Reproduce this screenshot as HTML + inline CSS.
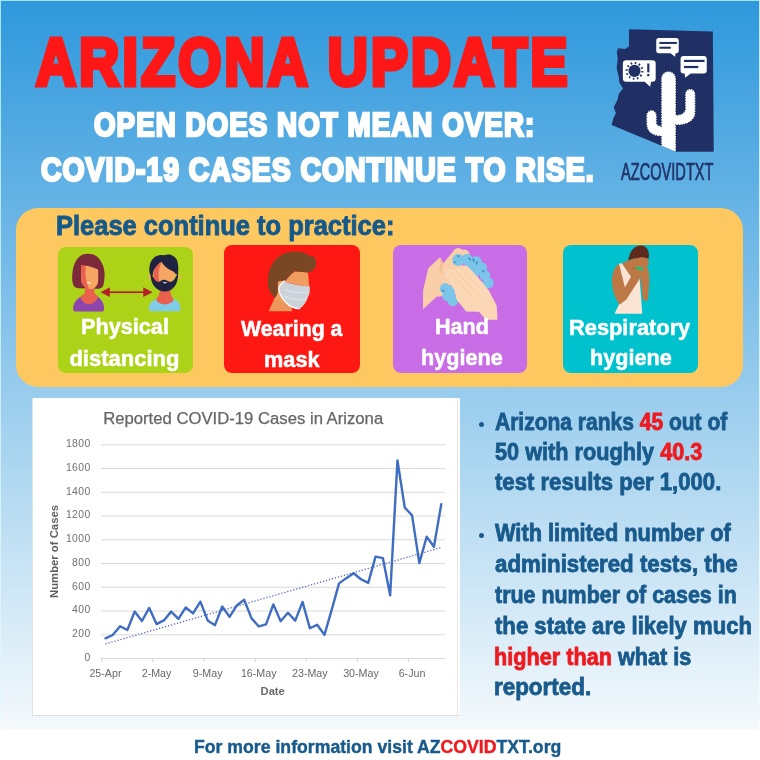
<!DOCTYPE html>
<html lang="en">
<head>
<meta charset="utf-8">
<title>Arizona Update</title>
<style>
html,body{margin:0;padding:0;background:#fff;}
#page{position:relative;width:760px;height:760px;overflow:hidden;font-family:'Liberation Sans',sans-serif;font-weight:700;
 background:linear-gradient(180deg,rgb(46,152,220) 0px,rgb(244,249,252) 729px,#ffffff 730.5px,#ffffff 760px);}
#page:before{content:"";position:absolute;left:0;top:0;width:760px;height:1px;background:#a6e6fb;z-index:5}
#page .redge{position:absolute;right:0;top:0;width:1.3px;height:760px;background:linear-gradient(180deg,#bfeaff 0px,#f2faff 715px,#ffffff 731px);z-index:5}
#page:after{content:"";position:absolute;left:0;top:0;width:1px;height:760px;background:linear-gradient(180deg,#a6e6fb 0px,#e6f7ff 715px,#ffffff 731px);z-index:5}
.t{margin:0;font-weight:700;position:absolute;white-space:nowrap;line-height:1;transform-origin:0 0;paint-order:stroke fill;-webkit-font-smoothing:antialiased}
.panel{position:absolute;left:16.4px;top:207.5px;width:726.9px;height:179.5px;border-radius:22px;background:#fec861}
.tile{position:absolute;border-radius:8px}
.chart{position:absolute;left:31.5px;top:398px;width:428.5px;height:317.5px;background:#fff;box-sizing:border-box;border-left:1px solid #dde1e5;border-bottom:1px solid #dde1e5}
.chart:after{content:"";position:absolute;right:2.5px;top:0;width:1px;height:100%;background:#efe6e7}
.dot{position:absolute;width:5px;height:5px;border-radius:50%;background:#185a8c}
svg{position:absolute;left:0;top:0;overflow:visible}
</style>
</head>
<body>
<div id="page">
<div class="redge"></div>
<div class="panel"></div>
<div class="tile" style="left:58px;top:246.7px;width:135.2px;height:126.2px;background:#acd318"></div>
<div class="tile" style="left:224.4px;top:244.6px;width:135.3px;height:128px;background:#fd1814"></div>
<div class="tile" style="left:393px;top:244.6px;width:134.3px;height:128px;background:#c96de7"></div>
<div class="tile" style="left:563px;top:244.8px;width:134.8px;height:128px;background:#00c2ce"></div>
<div class="chart"></div>
<div class="dot" style="left:478.6px;top:422.4px"></div>
<div class="dot" style="left:478.6px;top:532.8px"></div>
<svg width="760" height="760" viewBox="0 0 760 760">
<!-- logo -->
<g transform="translate(605,20) scale(0.18433)">
 <defs><clipPath id="azclip"><path d="M130,50 L585,62 L590,715 L385,715 L36,570 L44,537 L59,505 L47,474 L67,435 L75,400 L98,372 L78,341 L75,309 L63,262 L69,207 L64,172 L71,153 L110,157 L130,143 Z"/></clipPath></defs>
 <path d="M130,50 L585,62 L590,715 L385,715 L36,570 L44,537 L59,505 L47,474 L67,435 L75,400 L98,372 L78,341 L75,309 L63,262 L69,207 L64,172 L71,153 L110,157 L130,143 Z" fill="#203065"/>
 <g clip-path="url(#azclip)">
  <path id="cactus" d="M305,720 L305,630 C250,630 225,600 225,560 L225,520 C225,480 280,480 280,520 L280,555 C280,570 290,575 305,575 L305,320 C305,265 385,265 385,320 L385,515 C420,515 435,500 435,480 L435,405 C435,365 490,365 490,405 L490,500 C490,545 450,570 385,570 L385,720 Z" fill="#fff" stroke="#203065" stroke-width="8" stroke-dasharray="5 9"/>
 </g>
 <!-- bubble top -->
 <path d="M292,98 H386 Q400,98 400,112 V166 Q400,180 386,180 L383,180 L380,200 L355,180 H292 Q278,180 278,166 V112 Q278,98 292,98 Z" fill="#fff"/>
 <rect x="295" y="119" width="95" height="11" fill="#203065"/><rect x="295" y="145" width="62" height="11" fill="#203065"/>
 <!-- bubble right -->
 <path d="M426,195 H536 Q552,195 552,211 V274 Q552,290 536,290 H465 L435,313 L432,290 H426 Q410,290 410,274 V211 Q410,195 426,195 Z" fill="#fff"/>
 <rect x="428" y="216" width="112" height="12" fill="#203065"/><rect x="428" y="249" width="78" height="12" fill="#203065"/>
 <!-- bubble left virus -->
 <path d="M115,218 H257 Q275,218 275,236 V317 Q275,335 257,335 H250 L245,362 L215,335 H115 Q97,335 97,317 V236 Q97,218 115,218 Z" fill="#fff"/>
 <circle cx="160" cy="276" r="33" fill="#203065"/>
 <circle cx="160" cy="276" r="43" fill="none" stroke="#203065" stroke-width="11" stroke-dasharray="9 13.5"/>
 <rect x="229" y="236" width="12" height="48" fill="#203065"/><rect x="229" y="293" width="12" height="12" fill="#203065"/>
</g>

<!-- tile 1: physical distancing -->
<g transform="translate(50,240) scale(0.21053)">
 <!-- woman -->
 <path d="M171,66 C200,64 222,72 236,92 C252,115 262,145 259,172 C258,195 256,208 252,218 C246,228 238,232 226,231 L139,229 C124,228 114,222 110,212 C105,195 104,180 106,165 C108,130 118,100 137,82 C148,70 160,66 171,66 Z" fill="#7c2a3b"/>
 <path d="M110,326 C110,296 130,272 160,266 L214,266 C240,272 257,296 257,326 Q257,340 244,340 L123,340 Q110,340 110,326 Z" fill="#8e44ad"/>
 <path d="M166,222 L211,222 L211,250 C215,258 222,262 228,266 C226,290 205,305 185,305 C165,305 147,290 145,266 C152,262 162,258 166,250 Z" fill="#e9604f"/>
 <path d="M147,110 L229,110 L229,190 C229,215 212,233 195,233 C170,233 150,215 148,190 Z" fill="#f6a563"/>
 <path d="M147,110 L172,112 C165,150 168,200 186,232 C165,228 150,212 148,190 Z" fill="#e9604f"/>
 <path d="M142,106 L233,100 L233,143 C205,129 175,121 146,119 Z" fill="#7c2a3b"/>
 <path d="M173,201 Q185,213 197,201 Z" fill="#fff"/>
 <!-- man -->
 <path d="M469,326 C469,298 495,280 520,277 L572,277 C600,280 620,298 620,326 Q620,339 606,339 L483,339 Q469,339 469,326 Z" fill="#7fcde9"/>
 <path d="M522,235 L572,235 C572,260 580,272 587,282 C585,298 565,306 546,306 C527,306 507,298 504,282 C512,272 522,260 522,235 Z" fill="#e9604f"/>
 <circle cx="474" cy="176" r="9" fill="#f6a563"/><circle cx="613" cy="176" r="9" fill="#f6a563"/>
 <ellipse cx="544" cy="152" rx="54" ry="58" fill="#f6a563"/>
 <path d="M510,112 C495,135 488,165 494,200 L520,205 C512,170 515,140 528,108 Z" fill="#e9604f"/>
 <path d="M476,165 C470,150 471,135 473,125 C475,112 479,102 484,95 C492,84 500,78 511,75 C520,70 530,72 541,73 C552,68 565,68 576,71 C590,76 598,85 603,95 C607,105 609,115 609,125 C610,140 609,155 607,165 L596,160 C590,152 582,147 572,143 C562,138 552,132 546,125 C540,118 535,111 530,104 C522,106 516,111 511,117 C504,125 498,134 493,143 C490,152 489,160 489,169 Z" fill="#1f2241"/>
 <path d="M477,156 C477,215 508,245 546,245 C582,245 609,215 609,156 L596,178 C590,190 582,197 572,200 C562,196 552,190 541,189 C532,190 523,196 515,200 C505,197 497,190 493,182 Z" fill="#1f2241"/>
 <path d="M534,201 Q546,212 558,201 Z" fill="#fff"/>
 <!-- arrow -->
 <rect x="270" y="244" width="190" height="8" fill="#b4212b"/>
 <path d="M240,248 L284,225 L284,271 Z M487,248 L443,225 L443,271 Z" fill="#b4212b"/>
</g>

<!-- tile 2: mask -->
<g transform="translate(215,240) scale(0.21053)">
 <path d="M283,276 L340,296 L365,318 L365,339 L255,339 Z" fill="#ec965c"/>
 <path d="M296,196 L332,194 L304,230 L310,262 L345,304 L283,278 L297,248 Z" fill="#f19d60"/>
 <path d="M335,194 C345,180 360,160 380,148 L442,154 L448,224 L327,198 Z" fill="#f19d60"/>
 <path d="M282,274 C262,250 248,225 252,193 C252,165 256,145 265,128 C280,95 305,70 340,61 C365,55 395,52 415,58 C432,62 445,72 452,80 C458,72 470,76 476,90 C484,105 482,125 470,139 C462,148 452,153 440,154 L380,148 C372,152 365,158 360,164 C350,175 342,185 335,194 L298,198 L298,248 C295,262 290,270 282,274 Z" fill="#7a4724"/>
 <ellipse cx="311" cy="212" rx="11" ry="18" fill="#f19d60"/>
 <path d="M327,196 C370,212 420,218 450,221 C452,245 448,262 442,270 C432,300 420,315 405,324 C385,326 370,320 355,313 C330,295 312,272 307,253 C303,240 302,232 303,228 C308,215 318,204 327,196 Z" fill="#cdd3da"/>
 <path d="M330,236 C370,250 420,252 447,246 M330,268 C370,286 410,286 436,280" fill="none" stroke="#dde1e6" stroke-width="6"/>
 <path d="M330,194 C318,204 305,215 303,230 C303,252 320,286 355,313 C372,322 388,327 402,326" fill="none" stroke="#fff" stroke-width="6" stroke-linecap="round"/>
</g>

<!-- tile 3: hands -->
<g transform="translate(415,244) scale(0.11842)">
 <path d="M68,552 L68,390 L112,205 L212,112 L238,165 L335,45 Q372,20 398,48 Q440,40 462,78 L420,140 L330,300 L235,440 L182,445 Z" fill="#f8cfa9"/>
 <path d="M212,112 L238,165 L225,250 L205,235 Z" fill="#f3c198"/>
 <g fill="#7cc4ea">
  <circle cx="365" cy="135" r="50"/><circle cx="440" cy="130" r="48"/><circle cx="515" cy="150" r="48"/><circle cx="565" cy="200" r="45"/>
  <circle cx="590" cy="265" r="45"/><circle cx="620" cy="330" r="45"/><circle cx="575" cy="355" r="40"/><circle cx="480" cy="230" r="70"/>
  <circle cx="255" cy="375" r="45"/><circle cx="275" cy="440" r="45"/><circle cx="320" cy="480" r="45"/><circle cx="300" cy="400" r="50"/>
 </g>
 <g fill="none" stroke="#2b8cc0" stroke-width="11" stroke-linecap="round">
  <path d="M330,158 l10,-6 M360,100 l8,6 M455,120 l16,14 M490,125 l8,22 M525,150 l-6,20 M570,225 l12,8 M535,322 l6,4 M232,392 l12,6"/>
 </g>
 <path d="M697,640 L690,520 L622,390 L532,280 L445,190 Q415,170 398,185 L335,215 Q300,200 262,225 L245,262 L330,385 L352,470 L432,570 L540,572 L598,640 L697,640 Z" fill="#fbd7b6"/>
 <path d="M300,240 L470,430 M345,225 L500,400 M395,200 L520,345" fill="none" stroke="#f6c9a2" stroke-width="8" stroke-linecap="round"/>
</g>

<!-- tile 4: respiratory -->
<g transform="translate(600,242) scale(0.10526)">
 <path d="M181,205 L211,205 L300,330 L376,345 L402,682 L138,682 L185,585 Z" fill="#fbe4d3"/>
 <path d="M209,205 L292,160 L340,262 L320,285 L293,327 Z" fill="#bd7845"/>
 <path d="M181,206 C128,240 104,320 118,425 C128,500 158,562 190,594 L250,547 L378,348 L385,300 L320,282 L237,433 Z" fill="#bd7845"/>
 <path d="M438,228 C472,262 472,330 466,420 L456,540 C446,572 414,566 408,540 L384,350 L380,300 L400,250 Z" fill="#bd7845"/>
 <ellipse cx="382" cy="195" rx="82" ry="72" fill="#bd7845"/>
 <circle cx="350" cy="295" r="42" fill="#bd7845"/>
 <path d="M268,178 C278,92 328,34 386,34 C446,34 478,92 460,162 C440,150 402,140 370,150 C340,160 312,150 268,178 Z" fill="#5e2a1d"/>
 <ellipse cx="376" cy="251" rx="40" ry="19" transform="rotate(8 376 251)" fill="#3fae6d"/>
 <path d="M300,262 q20,-22 45,-10" fill="none" stroke="#8a5a35" stroke-width="6"/>
</g>
</svg>

<svg width="760" height="760" viewBox="0 0 760 760" style="font-family:'Liberation Sans',sans-serif;font-weight:400">
<line x1="101" x2="445.2" y1="658.50" y2="658.50" stroke="#d9d9d9" stroke-width="1"/>
<line x1="101" x2="445.2" y1="634.76" y2="634.76" stroke="#d9d9d9" stroke-width="1"/>
<line x1="101" x2="445.2" y1="611.02" y2="611.02" stroke="#d9d9d9" stroke-width="1"/>
<line x1="101" x2="445.2" y1="587.28" y2="587.28" stroke="#d9d9d9" stroke-width="1"/>
<line x1="101" x2="445.2" y1="563.54" y2="563.54" stroke="#d9d9d9" stroke-width="1"/>
<line x1="101" x2="445.2" y1="539.80" y2="539.80" stroke="#d9d9d9" stroke-width="1"/>
<line x1="101" x2="445.2" y1="516.06" y2="516.06" stroke="#d9d9d9" stroke-width="1"/>
<line x1="101" x2="445.2" y1="492.32" y2="492.32" stroke="#d9d9d9" stroke-width="1"/>
<line x1="101" x2="445.2" y1="468.58" y2="468.58" stroke="#d9d9d9" stroke-width="1"/>
<line x1="101" x2="445.2" y1="444.84" y2="444.84" stroke="#d9d9d9" stroke-width="1"/>
<line x1="101.80" x2="101.80" y1="658.50" y2="662.00" stroke="#d0d0d0" stroke-width="1"/>
<line x1="152.90" x2="152.90" y1="658.50" y2="662.00" stroke="#d0d0d0" stroke-width="1"/>
<line x1="204.00" x2="204.00" y1="658.50" y2="662.00" stroke="#d0d0d0" stroke-width="1"/>
<line x1="255.10" x2="255.10" y1="658.50" y2="662.00" stroke="#d0d0d0" stroke-width="1"/>
<line x1="306.20" x2="306.20" y1="658.50" y2="662.00" stroke="#d0d0d0" stroke-width="1"/>
<line x1="357.30" x2="357.30" y1="658.50" y2="662.00" stroke="#d0d0d0" stroke-width="1"/>
<line x1="408.40" x2="408.40" y1="658.50" y2="662.00" stroke="#d0d0d0" stroke-width="1"/>
<text x="90.8" y="660.90" text-anchor="end" font-size="10.4" letter-spacing="0.45" fill="#707070">0</text>
<text x="90.8" y="637.16" text-anchor="end" font-size="10.4" letter-spacing="0.45" fill="#707070">200</text>
<text x="90.8" y="613.42" text-anchor="end" font-size="10.4" letter-spacing="0.45" fill="#707070">400</text>
<text x="90.8" y="589.68" text-anchor="end" font-size="10.4" letter-spacing="0.45" fill="#707070">600</text>
<text x="90.8" y="565.94" text-anchor="end" font-size="10.4" letter-spacing="0.45" fill="#707070">800</text>
<text x="90.8" y="542.20" text-anchor="end" font-size="10.4" letter-spacing="0.45" fill="#707070">1000</text>
<text x="90.8" y="518.46" text-anchor="end" font-size="10.4" letter-spacing="0.45" fill="#707070">1200</text>
<text x="90.8" y="494.72" text-anchor="end" font-size="10.4" letter-spacing="0.45" fill="#707070">1400</text>
<text x="90.8" y="470.98" text-anchor="end" font-size="10.4" letter-spacing="0.45" fill="#707070">1600</text>
<text x="90.8" y="447.24" text-anchor="end" font-size="10.4" letter-spacing="0.45" fill="#707070">1800</text>
<text x="105.45" y="676.8" text-anchor="middle" font-size="10.7" fill="#686868">25-Apr</text>
<text x="156.55" y="676.8" text-anchor="middle" font-size="10.7" fill="#686868">2-May</text>
<text x="207.65" y="676.8" text-anchor="middle" font-size="10.7" fill="#686868">9-May</text>
<text x="258.75" y="676.8" text-anchor="middle" font-size="10.7" fill="#686868">16-May</text>
<text x="309.85" y="676.8" text-anchor="middle" font-size="10.7" fill="#686868">23-May</text>
<text x="360.95" y="676.8" text-anchor="middle" font-size="10.7" fill="#686868">30-May</text>
<text x="412.05" y="676.8" text-anchor="middle" font-size="10.7" fill="#686868">6-Jun</text>
<text x="272.7" y="695.3" text-anchor="middle" font-size="11.2" font-weight="700" fill="#6a6a6a">Date</text>
<text transform="translate(58.3,598) rotate(-90)" font-size="11.4" font-weight="700" fill="#606060" textLength="93" lengthAdjust="spacingAndGlyphs">Number of Cases</text>
<text x="103.2" y="424" font-size="15.8" fill="#666" stroke="#666" stroke-width="0.25" textLength="280" lengthAdjust="spacingAndGlyphs">Reported COVID-19 Cases in Arizona</text>
<line x1="105.45" y1="643.90" x2="441.25" y2="547.52" stroke="#4b63c4" stroke-width="1.3" stroke-dasharray="1.2 1.9"/>
<polyline points="105.45,638.32 112.75,635.00 120.05,626.21 127.35,630.01 134.65,611.61 141.95,620.99 149.25,607.93 156.55,624.08 163.85,620.40 171.15,611.61 178.45,618.97 185.75,607.46 193.05,613.39 200.35,601.64 207.65,620.40 214.95,625.15 222.25,606.51 229.55,616.84 236.85,605.44 244.15,599.74 251.45,618.14 258.75,626.45 266.05,624.43 273.35,604.37 280.65,621.23 287.95,612.80 295.25,620.63 302.55,601.88 309.85,628.23 317.15,624.79 324.45,634.88 331.75,609.60 339.05,583.36 346.35,578.14 353.65,573.27 360.95,579.21 368.25,582.89 375.55,556.66 382.85,558.08 390.15,595.35 397.45,460.51 404.75,507.51 412.05,515.35 419.35,563.07 426.65,536.71 433.95,546.68 441.25,504.19" fill="none" stroke="#3f6dc1" stroke-width="2.4" stroke-linejoin="round" stroke-linecap="round"/>
</svg>
<h1 class="t" style="left:35.87px;top:29.15px;font-size:66.3px;color:#fd1717;-webkit-text-stroke:5px currentColor;letter-spacing:3.917px;transform:scaleX(0.8350)">ARIZONA UPDATE</h1>
<h2 class="t" style="left:93.70px;top:107.85px;font-size:33px;color:#fff;-webkit-text-stroke:2.6px currentColor;letter-spacing:1.262px;transform:scaleX(0.8400)">OPEN DOES NOT MEAN OVER:</h2>
<h2 class="t" style="left:40.70px;top:152.85px;font-size:33px;color:#fff;-webkit-text-stroke:2.6px currentColor;letter-spacing:1.170px;transform:scaleX(0.8600)">COVID-19 CASES CONTINUE TO RISE.</h2>
<div class="t" style="left:621.00px;top:160.05px;font-size:24px;color:#213168;-webkit-text-stroke:0.7px currentColor;font-weight:400;transform:scaleX(0.6086)">AZCOVIDTXT</div>
<h3 class="t" style="left:55.66px;top:212.80px;font-size:27px;color:#15598a;-webkit-text-stroke:0.9px currentColor;transform:scaleX(0.9437)">Please continue to practice:</h3>
<div class="t" style="left:80.61px;top:315.95px;font-size:22px;color:#fff;-webkit-text-stroke:0.5px currentColor;transform:scaleX(0.9851)">Physical</div>
<div class="t" style="left:69.40px;top:347.65px;font-size:22px;color:#fff;-webkit-text-stroke:0.5px currentColor;transform:scaleX(1.0000)">distancing</div>
<div class="t" style="left:241.30px;top:318.25px;font-size:22px;color:#fff;-webkit-text-stroke:0.5px currentColor;transform:scaleX(0.9686)">Wearing a</div>
<div class="t" style="left:263.51px;top:348.55px;font-size:22px;color:#fff;-webkit-text-stroke:0.5px currentColor;transform:scaleX(0.9873)">mask</div>
<div class="t" style="left:435.42px;top:315.95px;font-size:22px;color:#fff;-webkit-text-stroke:0.5px currentColor;transform:scaleX(0.9811)">Hand</div>
<div class="t" style="left:421.02px;top:346.85px;font-size:22px;color:#fff;-webkit-text-stroke:0.5px currentColor;transform:scaleX(0.9829)">hygiene</div>
<div class="t" style="left:569.01px;top:316.95px;font-size:22px;color:#fff;-webkit-text-stroke:0.5px currentColor;transform:scaleX(0.9917)">Respiratory</div>
<div class="t" style="left:590.02px;top:346.85px;font-size:22px;color:#fff;-webkit-text-stroke:0.5px currentColor;transform:scaleX(0.9841)">hygiene</div>
<div class="t" style="left:494.80px;top:410.88px;font-size:23.2px;color:#185a8c;-webkit-text-stroke:0.8px currentColor;transform:scaleX(0.9058)">Arizona ranks <span style="color:#ee1a1f">45</span> out of</div>
<div class="t" style="left:494.80px;top:441.38px;font-size:23.2px;color:#185a8c;-webkit-text-stroke:0.8px currentColor;transform:scaleX(0.9357)">50 with roughly <span style="color:#ee1a1f">40.3</span></div>
<div class="t" style="left:494.80px;top:471.38px;font-size:23.2px;color:#185a8c;-webkit-text-stroke:0.8px currentColor;transform:scaleX(0.9542)">test results per 1,000.</div>
<div class="t" style="left:494.80px;top:522.38px;font-size:23.2px;color:#185a8c;-webkit-text-stroke:0.8px currentColor;transform:scaleX(0.9394)">With limited number of</div>
<div class="t" style="left:494.80px;top:553.28px;font-size:23.2px;color:#185a8c;-webkit-text-stroke:0.8px currentColor;transform:scaleX(0.9611)">administered tests, the</div>
<div class="t" style="left:494.80px;top:583.78px;font-size:23.2px;color:#185a8c;-webkit-text-stroke:0.8px currentColor;transform:scaleX(0.9241)">true number of cases in</div>
<div class="t" style="left:494.80px;top:615.08px;font-size:23.2px;color:#185a8c;-webkit-text-stroke:0.8px currentColor;transform:scaleX(0.9541)">the state are likely much</div>
<div class="t" style="left:493.87px;top:645.58px;font-size:23.2px;color:#185a8c;-webkit-text-stroke:0.8px currentColor;transform:scaleX(0.9343)"><span style="color:#ee1a1f">higher than</span> what is</div>
<div class="t" style="left:493.83px;top:676.08px;font-size:23.2px;color:#185a8c;-webkit-text-stroke:0.8px currentColor;transform:scaleX(0.9663)">reported.</div>
<div class="t" style="left:193.69px;top:738.73px;font-size:17.5px;color:#185a8c;-webkit-text-stroke:0.4px currentColor;transform:scaleX(1.0091)">For more information visit AZ<span style="color:#ee1a1f">COVID</span>TXT.org</div>
</div>
</body>
</html>
